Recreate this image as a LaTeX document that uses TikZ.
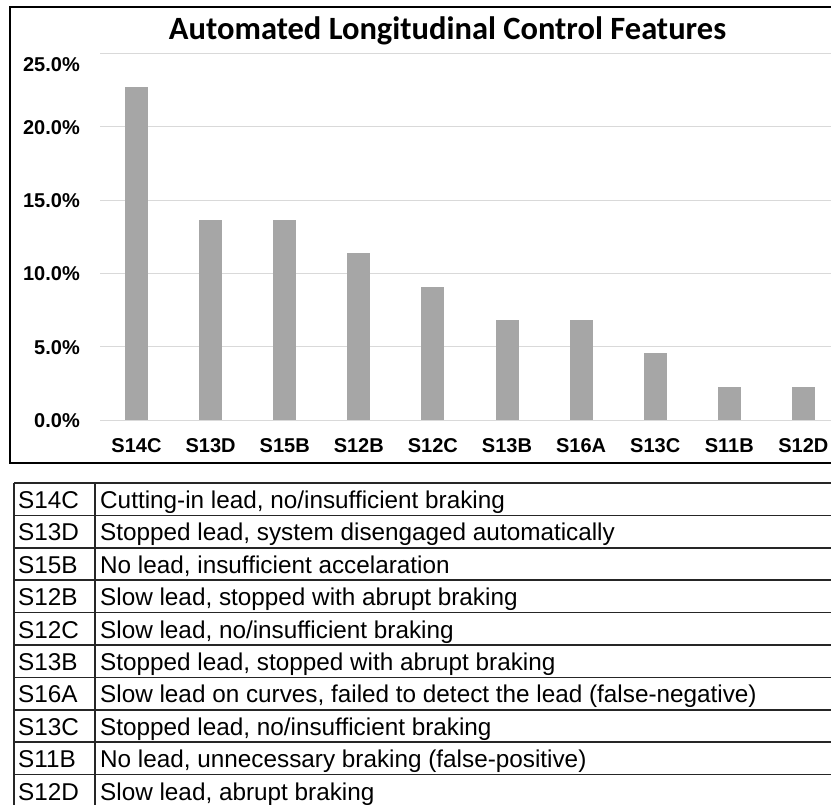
\documentclass[tikz,border=0pt]{standalone}
\usepackage{fontspec}
\setmainfont{Liberation Sans}
\newfontfamily\titlefont{Carlito}
\tikzset{
    grid-line/.style = {draw=black!15, line width=1pt},
    bar/.style = {fill=black!35, draw=none},
    tick-label/.style = {font=\bfseries\fontsize{20}{24}\selectfont, anchor=base east, inner sep=0pt},
    cat-label/.style = {font=\bfseries\fontsize{20}{24}\selectfont, anchor=base, inner sep=0pt},
    cell/.style = {font=\fontsize{24.3}{28}\selectfont, anchor=base west, inner sep=0pt},
    chart-title/.style = {font=\titlefont\bfseries\fontsize{32.5}{38}\selectfont, anchor=base, inner sep=0pt},
    table-line/.style = {draw=black!85, line width=1.5pt},
}
\begin{document}
\begin{tikzpicture}[x=1pt, y=-1pt]
\useasboundingbox (0,0) rectangle (831,805);
\clip (0,0) rectangle (831,805);
% chart
\draw[line width=2pt] (10,7) rectangle (850,463);
\node[chart-title] (title) at (447.5,39.5) {Automated Longitudinal Control Features};
\foreach \p/\y [count=\i from 0] in {0.0/428, 5.0/355, 10.0/281, 15.0/208, 20.0/135, 25.0/71.5} {
    \draw[grid-line] (100,{420-73.33*\i}) -- (850,{420-73.33*\i});
    \node[tick-label] (tick-\i) at (80,\y) {\p\%};
}
\foreach \s/\n [count=\i from 0] in {S14C/10, S13D/6, S15B/6, S12B/5, S12C/4, S13B/3, S16A/3, S13C/2, S11B/1, S12D/1} {
    \fill[bar] ({125+74.1*\i},420) rectangle ++(23,{-33.33*\n});
    \node[cat-label] (cat-\s) at ({136.5+74.1*\i},452.5) {\s};
}
% legend table
\foreach \k in {0,...,10}
    \draw[table-line] (14,{483+32.4*\k}) -- (850,{483+32.4*\k});
\draw[table-line] (14,483) -- (14,810);
\draw[table-line] (95,483) -- (95,810);
\foreach \s/\d [count=\k from 0] in {
    S14C/{Cutting-in lead, no/insufficient braking},
    S13D/{Stopped lead, system disengaged automatically},
    S15B/{No lead, insufficient accelaration},
    S12B/{Slow lead, stopped with abrupt braking},
    S12C/{Slow lead, no/insufficient braking},
    S13B/{Stopped lead, stopped with abrupt braking},
    S16A/{Slow lead on curves, failed to detect the lead (false-negative)},
    S13C/{Stopped lead, no/insufficient braking},
    S11B/{No lead, unnecessary braking (false-positive)},
    S12D/{Slow lead, abrupt braking}} {
    \node[cell] (code-\s) at (18,{508.5+32.4*\k}) {\s};
    \node[cell] (desc-\s) at (100,{508.5+32.4*\k}) {\d};
}
\end{tikzpicture}
\end{document}
